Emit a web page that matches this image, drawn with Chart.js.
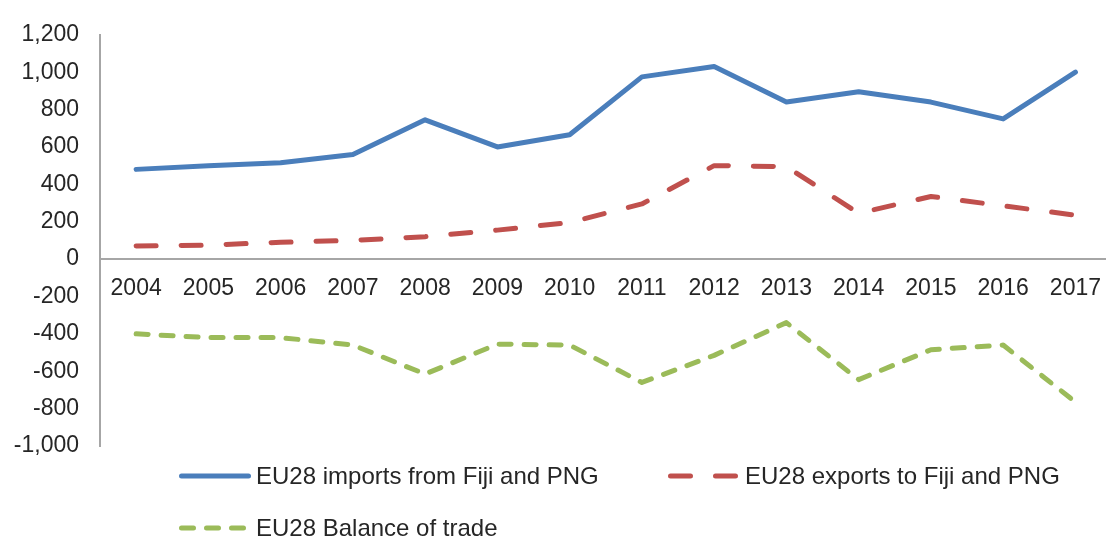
<!DOCTYPE html>
<html>
<head>
<meta charset="utf-8">
<script src="https://cdn.jsdelivr.net/npm/chart.js@4.4.1/dist/chart.umd.min.js"></script>
<style>
  html, body { margin: 0; padding: 0; background: #ffffff; overflow: hidden; }
  #wrap { position: relative; width: 1117px; height: 537px; }
</style>
</head>
<body>
<div id="wrap"><canvas id="trade"></canvas></div>
<script>
// EU28 trade with Fiji and Papua New Guinea (EUR million)
const years = ['2004', '2005', '2006', '2007', '2008', '2009', '2010', '2011', '2012', '2013', '2014', '2015', '2016', '2017'];
const imports = [480, 500, 515, 560, 745, 600, 665, 975, 1030, 840, 895, 840, 750, 1000];
const exports = [70, 75, 90, 100, 120, 155, 196, 295, 500, 495, 245, 335, 285, 235];
const balance = [-400, -420, -420, -460, -615, -455, -460, -660, -515, -340, -645, -485, -460, -765];
const seriesNames = ['EU28 imports from Fiji and PNG', 'EU28 exports to Fiji and PNG', 'EU28 Balance of trade'];
const yMin = -1000, yMax = 1200, yStep = 200;

const axisFont = { family: 'Liberation Sans, Arial, sans-serif', size: 23 };
const legendFont = '24px "Liberation Sans", Arial, sans-serif';
const axisColor = '#a6a6a6';
const textColor = '#262626';

// Legend drawn below the plot: two columns, two rows, line sample then label
const bottomLegend = {
  id: 'bottomLegend',
  afterDraw(chart) {
    const ctx = chart.ctx;
    const area = chart.chartArea;
    const cols = [179, 668];
    const rows = [area.bottom + 30, area.bottom + 82];
    const sampleLen = 72;
    const slots = [[0, 0], [1, 0], [0, 1]];
    ctx.save();
    chart.data.datasets.forEach((ds, i) => {
      const [c, r] = slots[i];
      const x = cols[c], y = rows[r];
      ctx.beginPath();
      ctx.strokeStyle = ds.borderColor;
      ctx.lineWidth = ds.borderWidth;
      ctx.lineCap = ds.borderCapStyle || 'butt';
      ctx.setLineDash(ds.borderDash || []);
      ctx.moveTo(x + ctx.lineWidth / 2, y);
      ctx.lineTo(x + sampleLen - ctx.lineWidth / 2, y);
      ctx.stroke();
      ctx.setLineDash([]);
      ctx.fillStyle = textColor;
      ctx.font = legendFont;
      ctx.textAlign = 'left';
      ctx.textBaseline = 'middle';
      ctx.fillText(ds.label, x + sampleLen + 5, y + 1);
    });
    ctx.restore();
  }
};

new Chart(document.getElementById('trade'), {
  type: 'line',
  data: {
    labels: years,
    datasets: [
      {
        label: seriesNames[0],
        data: imports,
        borderColor: '#4a7ebb',
        borderWidth: 5,
        borderCapStyle: 'round',
        borderJoinStyle: 'round',
        pointRadius: 0,
        tension: 0
      },
      {
        label: seriesNames[1],
        data: exports,
        borderColor: '#c0504d',
        borderWidth: 5,
        borderDash: [20, 25],
        borderCapStyle: 'round',
        borderJoinStyle: 'round',
        pointRadius: 0,
        tension: 0
      },
      {
        label: seriesNames[2],
        data: balance,
        borderColor: '#9bbb59',
        borderWidth: 5,
        borderDash: [12, 13],
        borderCapStyle: 'round',
        borderJoinStyle: 'round',
        pointRadius: 0,
        tension: 0
      }
    ]
  },
  options: {
    responsive: true,
    maintainAspectRatio: false,
    animation: false,
    layout: { padding: { top: 28, bottom: 91, left: 0, right: 0 } },
    plugins: {
      legend: { display: false },
      tooltip: { enabled: false }
    },
    scales: {
      x: {
        type: 'category',
        position: { y: 0 },
        offset: true,
        grid: { display: false, drawTicks: false },
        border: { display: true, color: axisColor, width: 2 },
        ticks: { color: textColor, font: axisFont, padding: 16, maxRotation: 0, autoSkip: false },
        afterFit(scale) { scale.height = 0; }
      },
      y: {
        min: yMin,
        max: yMax,
        grid: { display: false, drawTicks: false },
        border: { display: true, color: axisColor, width: 2 },
        ticks: {
          stepSize: yStep,
          color: textColor,
          font: axisFont,
          padding: 21,
          callback: (v) => Number(v).toLocaleString('en-US')
        },
        afterFit(scale) { scale.width = 100; }
      }
    }
  },
  plugins: [bottomLegend]
});
</script>
</body>
</html>
